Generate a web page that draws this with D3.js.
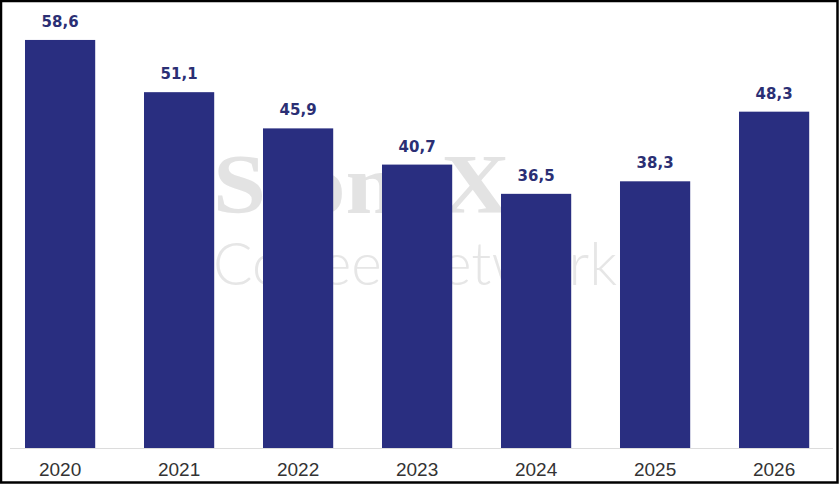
<!DOCTYPE html>
<html>
<head>
<meta charset="utf-8">
<script src="https://cdn.jsdelivr.net/npm/d3@7"></script>
<style>
  html, body { margin: 0; padding: 0; background: #fff; }
  svg { display: block; }
</style>
</head>
<body>
<svg id="chart" width="839" height="484"></svg>
<script>
const years = ["2020", "2021", "2022", "2023", "2024", "2025", "2026"];
const values = [58.6, 51.1, 45.9, 40.7, 36.5, 38.3, 48.3];
const valueLabels = ["58,6", "51,1", "45,9", "40,7", "36,5", "38,3", "48,3"];

const W = 839, H = 484;
const svg = d3.select("#chart");

svg.append("rect").attr("width", W).attr("height", H).attr("fill", "#fff");

// watermark
svg.append("text")
  .attr("x", 213).attr("y", 213)
  .attr("font-family", "Liberation Serif, serif")
  .attr("font-weight", "bold")
  .attr("font-size", 84)
  .attr("textLength", 297)
  .attr("lengthAdjust", "spacingAndGlyphs")
  .attr("fill", "#e3e3e3")
  .text("StoneX");
svg.append("text")
  .attr("x", 213).attr("y", 285)
  .attr("font-family", "Lato, Liberation Sans, sans-serif")
  .attr("font-weight", 300)
  .attr("font-size", 60)
  .attr("textLength", 404)
  .attr("lengthAdjust", "spacingAndGlyphs")
  .attr("fill", "#e6e6e6")
  .text("Coffee Network");

const x = d3.scaleBand()
  .domain(years)
  .range([0.6, 833.6])
  .paddingInner(0.41)
  .paddingOuter(0.205);

const y = d3.scaleLinear()
  .domain([0, 60])
  .range([448, 30.2]);

// baseline
svg.append("line")
  .attr("x1", 10).attr("x2", 833)
  .attr("y1", 448.5).attr("y2", 448.5)
  .attr("stroke", "#dcdcdc").attr("stroke-width", 1.2);

svg.selectAll("rect.bar")
  .data(values)
  .join("rect")
  .attr("class", "bar")
  .attr("x", (d, i) => x(years[i]))
  .attr("width", x.bandwidth())
  .attr("y", d => y(d))
  .attr("height", d => y(0) - y(d))
  .attr("fill", "#292e80");

svg.selectAll("text.val")
  .data(values)
  .join("text")
  .attr("class", "val")
  .attr("x", (d, i) => x(years[i]) + x.bandwidth() / 2)
  .attr("y", d => y(d) - 13)
  .attr("text-anchor", "middle")
  .attr("font-family", "DejaVu Sans, sans-serif")
  .attr("font-weight", "bold")
  .attr("font-size", 15)
  .attr("fill", "#2b2f74")
  .text((d, i) => valueLabels[i]);

const axis = svg.append("g")
  .attr("transform", "translate(0,448)")
  .call(d3.axisBottom(x).tickSize(0).tickPadding(15));
axis.select(".domain").remove();
axis.selectAll("text")
  .attr("font-family", "Liberation Sans, Arial, sans-serif")
  .attr("font-size", 19)
  .attr("fill", "#333");

// frame
svg.append("rect")
  .attr("x", 1).attr("y", 1)
  .attr("width", W - 2.5).attr("height", H - 2.5)
  .attr("fill", "none")
  .attr("stroke", "#000")
  .attr("stroke-width", 2.5);
</script>
</body>
</html>
